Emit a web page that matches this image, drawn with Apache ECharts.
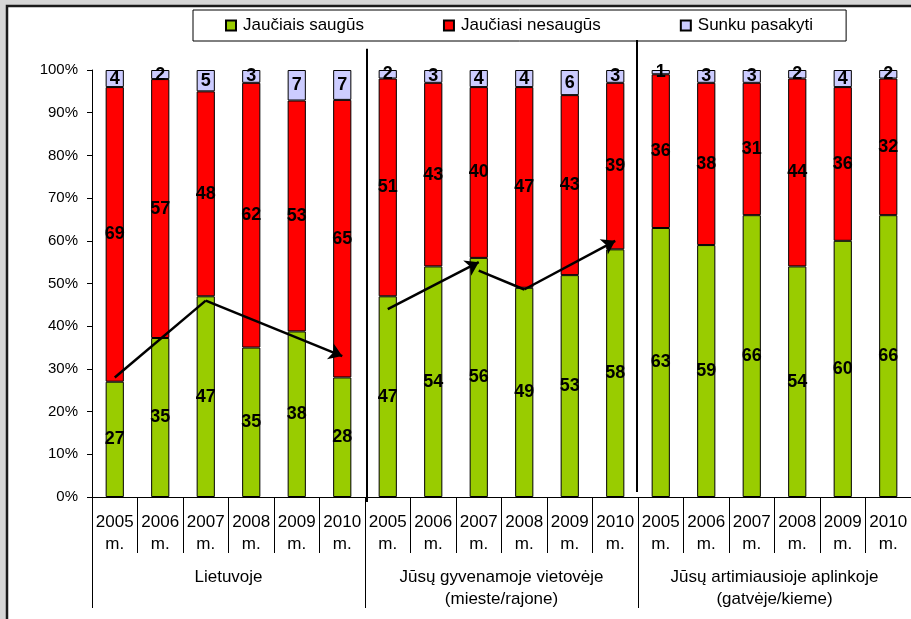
<!DOCTYPE html>
<html>
<head>
<meta charset="utf-8">
<script src="https://cdn.jsdelivr.net/npm/echarts@6/dist/echarts.min.js"></script>
<style>
  html, body { margin: 0; padding: 0; }
  #chart { width: 911px; height: 619px; }
</style>
</head>
<body>
<div id="chart"></div>
<script>
// duomenys
var years = ['2005', '2006', '2007', '2008', '2009', '2010'];
var groups = ['Lietuvoje', 'Jūsų gyvenamoje vietovėje\n(mieste/rajone)', 'Jūsų artimiausioje aplinkoje\n(gatvėje/kieme)'];
var safe = [27, 35, 47, 35, 38, 28, 47, 54, 56, 49, 53, 58, 63, 59, 66, 54, 60, 66];
var unsafe = [69, 57, 48, 62, 53, 65, 51, 43, 40, 47, 43, 39, 36, 38, 31, 44, 36, 32];
var hard = [4, 2, 5, 3, 7, 7, 2, 3, 4, 4, 6, 3, 1, 3, 3, 2, 4, 2];

// trend arrows: [category index, %] pairs, arrowhead on last point when true
var trendLines = [
  { from: [0, 28], to: [2, 46], arrow: false },
  { from: [2, 46], to: [5, 33], arrow: true },
  { from: [6, 44], to: [8, 55], arrow: true },
  { from: [8, 53], to: [9, 48.6], arrow: false },
  { from: [9, 48.6], to: [11, 60], arrow: true }
];

var FONT = 'Liberation Sans, Arial, sans-serif';

var categories = [];
groups.forEach(function () {
  years.forEach(function (y) { categories.push(y + '\nm.'); });
});

// 100% stacked: normalize each column
function pct(arr) {
  return arr.map(function (v, i) {
    return v / (safe[i] + unsafe[i] + hard[i]) * 100;
  });
}

function labelFor(raw) {
  return {
    show: true,
    position: 'inside',
    color: '#000',
    fontWeight: 'bold',
    fontSize: 18,
    fontFamily: FONT,
    formatter: function (p) { return raw[p.dataIndex]; }
  };
}

var chart = echarts.init(document.getElementById('chart'));

chart.setOption({
  animation: false,
  backgroundColor: '#d6d6d6',
  textStyle: { fontFamily: FONT },
  legend: {
    left: 193,
    top: 10,
    padding: [7, 33, 7, 32],
    itemGap: 79,
    itemWidth: 10,
    itemHeight: 10,
    icon: 'rect',
    borderColor: '#000',
    borderWidth: 1,
    backgroundColor: '#fff',
    textStyle: { fontSize: 17, color: '#000', fontFamily: FONT, padding: [0, 0, 0, 2] },
    data: ['Jaučiais saugūs', 'Jaučiasi nesaugūs', 'Sunku pasakyti']
  },
  grid: { left: 92, top: 70, width: 821, height: 427 },
  xAxis: [{
    type: 'category',
    data: categories,
    axisLine: { show: true, lineStyle: { color: '#000', width: 1 } },
    axisTick: { show: true, interval: 0, length: 56, lineStyle: { color: '#000', width: 1 } },
    axisLabel: { interval: 0, margin: 14, fontSize: 17, lineHeight: 22, color: '#000', fontFamily: FONT }
  }, {
    type: 'category',
    position: 'bottom',
    offset: 56,
    data: groups,
    axisLine: { show: false },
    axisTick: { show: true, interval: 0, length: 55, lineStyle: { color: '#000', width: 1 } },
    axisLabel: { interval: 0, margin: 13, fontSize: 17, lineHeight: 22, color: '#000', fontFamily: FONT }
  }],
  yAxis: {
    type: 'value',
    min: 0,
    max: 100,
    interval: 10,
    splitLine: { show: false },
    axisLine: { show: true, lineStyle: { color: '#000' } },
    axisTick: { show: true, length: 5, lineStyle: { color: '#000' } },
    axisLabel: { fontSize: 15, color: '#000', margin: 14, fontFamily: FONT, formatter: '{value}%' }
  },
  series: [{
    name: 'Jaučiais saugūs',
    type: 'bar',
    stack: 'total',
    barWidth: '40%',
    data: pct(safe),
    itemStyle: { color: '#99CC00', borderColor: '#000', borderWidth: 1 },
    label: labelFor(safe),
    markLine: {
      silent: true,
      animation: false,
      z: 10,
      symbolSize: 13,
      label: { show: false },
      lineStyle: { color: '#000', width: 2.5, type: 'solid' },
      data: trendLines.map(function (t) {
        return [
          { coord: t.from, symbol: 'none' },
          { coord: t.to, symbol: t.arrow ? 'arrow' : 'none' }
        ];
      })
    }
  }, {
    name: 'Jaučiasi nesaugūs',
    type: 'bar',
    stack: 'total',
    data: pct(unsafe),
    itemStyle: { color: '#FF0000', borderColor: '#000', borderWidth: 1 },
    label: labelFor(unsafe)
  }, {
    name: 'Sunku pasakyti',
    type: 'bar',
    stack: 'total',
    data: pct(hard),
    itemStyle: { color: '#CCCCFF', borderColor: '#000', borderWidth: 1 },
    label: labelFor(hard)
  }]
});

// white panel + group separators
var px = function (i) { return chart.convertToPixel({ xAxisIndex: 0 }, i); };
var py = function (v) { return chart.convertToPixel({ yAxisIndex: 0 }, v); };
var sep1 = (px(5) + px(6)) / 2 + 2;
var sep2 = (px(11) + px(12)) / 2 - 1;

chart.setOption({
  graphic: [{
    type: 'rect',
    z: -10,
    shape: { x: 7, y: 6, width: 920, height: 630 },
    style: { fill: '#fff', stroke: '#1a1a1a', lineWidth: 2.5 }
  }, {
    type: 'line',
    z: 5,
    shape: { x1: sep1, y1: py(105), x2: sep1, y2: py(0) + 5 },
    style: { stroke: '#000', lineWidth: 2 }
  }, {
    type: 'line',
    z: 5,
    shape: { x1: sep2, y1: py(107), x2: sep2, y2: py(0) - 5 },
    style: { stroke: '#000', lineWidth: 2 }
  }]
});
</script>
</body>
</html>
